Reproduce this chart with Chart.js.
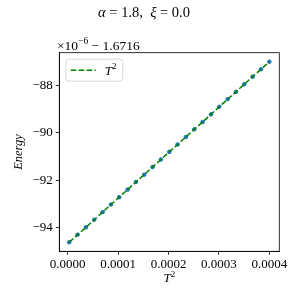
<!DOCTYPE html>
<html>
<head>
<meta charset="utf-8">
<script src="https://cdn.jsdelivr.net/npm/chart.js@4"></script>
<style>
  html, body { margin: 0; padding: 0; background: #fff; }
  #wrap { width: 300px; height: 300px; }
</style>
</head>
<body>
<div id="wrap"><canvas id="myChart" width="300" height="300"></canvas></div>
<script>
// values (energy shown as 1e-6 units, offset -1.6716)
const tSquared = [
    0.0000030, 0.0000195, 0.0000361, 0.0000526, 0.0000692, 0.0000857,
    0.0001022, 0.0001188, 0.0001353, 0.0001519, 0.0001684, 0.0001849,
    0.0002015, 0.0002180, 0.0002346, 0.0002511, 0.0002676, 0.0002842,
    0.0003007, 0.0003173, 0.0003338, 0.0003503, 0.0003669, 0.0003834,
    0.0004000,
];
const energy = [
    -94.61, -94.29, -93.98, -93.66, -93.34, -93.02,
    -92.71, -92.39, -92.07, -91.76, -91.44, -91.12,
    -90.80, -90.49, -90.17, -89.85, -89.54, -89.22,
    -88.90, -88.58, -88.27, -87.95, -87.63, -87.32,
    -87.00,
];
const xTicks = [0.0000, 0.0001, 0.0002, 0.0003, 0.0004];
const yTicks = [-94, -92, -90, -88];
const legendLabel = 'T²';

const FONT = '"Liberation Serif", "DejaVu Serif", serif';

const points = tSquared.map((x, i) => ({ x: x, y: energy[i] }));

// draw a run of text pieces left to right, each with its own font / offset
function drawRuns(ctx, runs, x, y, align) {
    let total = 0;
    runs.forEach(r => { ctx.font = r.font; total += ctx.measureText(r.text).width; });
    let cx = align === 'center' ? x - total / 2 : x;
    ctx.textAlign = 'left';
    ctx.textBaseline = 'alphabetic';
    runs.forEach(r => {
        ctx.font = r.font;
        ctx.fillText(r.text, cx, y + (r.dy || 0));
        cx += ctx.measureText(r.text).width;
    });
}

const decor = {
    id: 'decor',
    afterDraw(chart) {
        const ctx = chart.ctx;
        const a = chart.chartArea;
        ctx.save();
        // frame
        ctx.strokeStyle = '#000';
        ctx.lineWidth = 0.8;
        ctx.strokeRect(a.left, a.top, a.right - a.left, a.bottom - a.top);

        ctx.fillStyle = '#000';
        // title
        const n = '14.5px ' + FONT, it = 'italic 14.5px ' + FONT;
        drawRuns(ctx, [
            { text: 'α', font: it }, { text: ' = 1.8,  ', font: n },
            { text: 'ξ', font: it }, { text: ' = 0.0', font: n },
        ], 144, 17, 'center');

        // offset text
        drawRuns(ctx, [
            { text: '×10', font: '13.5px ' + FONT },
            { text: '−6', font: '9.5px ' + FONT, dy: -5.5 },
            { text: ' − 1.6716', font: '13.5px ' + FONT },
        ], 57, 49.5, 'left');

        // axis titles
        ctx.font = 'italic 12.5px ' + FONT;
        ctx.textAlign = 'center';
        ctx.save();
        ctx.translate(19, (a.top + a.bottom) / 2);
        ctx.rotate(-Math.PI / 2);
        ctx.textBaseline = 'middle';
        ctx.fillText('Energy', 0, 0);
        ctx.restore();
        drawRuns(ctx, [
            { text: 'T', font: 'italic 13px ' + FONT },
            { text: '2', font: '9px ' + FONT, dy: -5.5 },
        ], (a.left + a.right) / 2, 282, 'center');

        // legend box inside the axes
        const lx = a.left + 6.5, ly = a.top + 6.5, lw = 57, lh = 22;
        ctx.beginPath();
        ctx.roundRect(lx, ly, lw, lh, 3);
        ctx.fillStyle = 'rgba(255,255,255,0.8)';
        ctx.fill();
        ctx.strokeStyle = '#d0d0d0';
        ctx.lineWidth = 0.8;
        ctx.stroke();
        ctx.beginPath();
        ctx.setLineDash([5.5, 2.4]);
        ctx.strokeStyle = '#008000';
        ctx.lineWidth = 1.5;
        ctx.moveTo(lx + 5, ly + 11);
        ctx.lineTo(lx + 30, ly + 11);
        ctx.stroke();
        ctx.setLineDash([]);
        ctx.fillStyle = '#000';
        drawRuns(ctx, [
            { text: legendLabel.charAt(0), font: 'italic 13px ' + FONT },
            { text: '2', font: '9px ' + FONT, dy: -5.5 },
        ], lx + 39, ly + 15.5, 'left');
        ctx.restore();
    }
};

const data = {
    datasets: [
        {
            type: 'line',
            label: legendLabel,
            data: points,
            borderColor: '#008000',
            borderWidth: 1.5,
            borderDash: [5.5, 2.4],
            pointRadius: 0,
            fill: false,
            order: 0,
        },
        {
            type: 'scatter',
            label: 'points',
            data: points,
            backgroundColor: '#1f77b4',
            borderColor: '#1f77b4',
            pointRadius: 1.8,
            order: 1,
        },
    ]
};

const config = {
    type: 'scatter',
    data: data,
    plugins: [decor],
    options: {
        responsive: false,
        animation: false,
        layout: { padding: { top: 52.7, right: 20.7, left: 0, bottom: 0 } },
        plugins: {
            legend: { display: false },
            title: { display: false },
            tooltip: { enabled: false },
        },
        scales: {
            x: {
                type: 'linear',
                min: -0.0000167,
                max: 0.0004198,
                afterFit: s => { s.height = 48.7; },
                afterBuildTicks: s => { s.ticks = xTicks.map(v => ({ value: v })); },
                grid: { drawOnChartArea: false, drawTicks: true, tickLength: 3.5, color: '#000', tickWidth: 0.8 },
                border: { display: true, color: '#000', width: 0.8 },
                ticks: {
                    color: '#000',
                    padding: 2,
                    maxRotation: 0,
                    font: { family: FONT, size: 13 },
                    callback: v => v.toFixed(4),
                },
            },
            y: {
                type: 'linear',
                min: -94.99,
                max: -86.62,
                afterFit: s => { s.width = 59.3; },
                afterBuildTicks: s => { s.ticks = yTicks.map(v => ({ value: v })); },
                grid: { drawOnChartArea: false, drawTicks: true, tickLength: 3.5, color: '#000', tickWidth: 0.8 },
                border: { display: true, color: '#000', width: 0.8 },
                ticks: {
                    color: '#000',
                    padding: 3,
                    font: { family: FONT, size: 13 },
                    callback: v => (v < 0 ? '\u2212' + Math.abs(v) : String(v)),
                },
            },
        },
    },
};

const myChart = new Chart(document.getElementById('myChart'), config);
</script>
</body>
</html>
